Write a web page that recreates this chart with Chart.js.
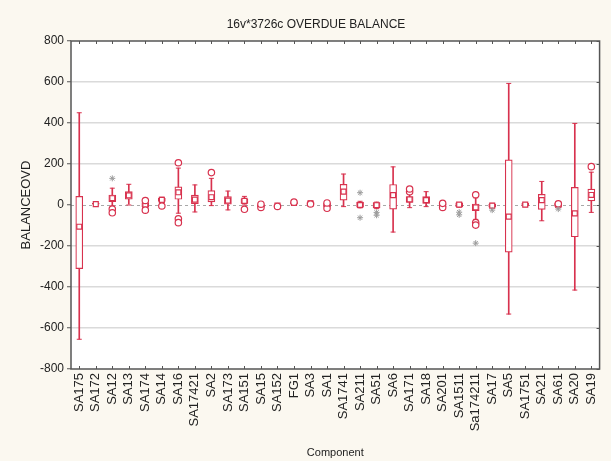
<!DOCTYPE html>
<html>
<head>
<meta charset="utf-8">
<title>OVERDUE BALANCE</title>
<script src="https://cdn.jsdelivr.net/npm/chart.js@4"></script>
<style>
  html, body { margin: 0; padding: 0; background: #fbf8f0; }
  canvas { display: block; }
</style>
</head>
<body>
<canvas id="chart" width="611" height="461"></canvas>
<script>
// Box-plot summaries of BALANCEOVD per component
const categories = ['SA175','SA172','SA12','SA13','SA174','SA14','SA16','SA17421','SA2','SA173',
  'SA151','SA15','SA152','FG1','SA3','SA1','SA1741','SA211','SA51','SA6',
  'SA171','SA18','SA201','SA1511','Sa174211','SA17','SA5','SA1751','SA21','SA61','SA20','SA19'];

const whiskerLow  = [-655, -3, -5,   0, -12, 10, -40, -34, -3, -24,   0, -14, -12,  2, -4, -18,  -8, -14, -18, -132, -13, -8, -10, -10, -70, -14, -532, -8, -77, -8, -415, -36];
const quartile1   = [-310,  0, 16,  28,  -8, 18,  28,   7, 15,   0,   8,  -9,  -8,  5,  0, -10,  24, -10, -14,  -20,  13,  8,  -8,  -8, -28, -10, -230, -5, -21, -5, -155,  20];
const medians     = [-106,  4, 33,  47,   0, 25,  62,  26, 38,  21,  20,  -4,  -3, 10,  8,  -2,  65,   0,  -1,   48,  27, 24,  -1,   2, -12,  -3,  -57,  2,  24,  2,  -41,  49];
const quartile3   = [  42,  8, 49,  65,  10, 32,  89,  48, 70,  41,  30,   2,   2, 16, 14,   8, 101,  14,  12,  100,  41, 41,   6,  10,   5,   5,  220,  8,  52,  8,   86,  78];
const whiskerHigh = [ 450, 10, 82, 101,  14, 38, 180,  98,130,  68,  42,   6,   5, 20, 18,  12, 151,  18,  14,  186,  55, 65,  10,  12,  35,   8,  593, 10, 115, 10,  398, 160];

// Outliers (circles) and extremes (stars)
const outliers = [[], [], [-20, -38], [], [-25, 22], [-5], [206, -67, -86], [], [158], [],
  [-21], [-12, 4], [-7], [14], [5], [-16, 10], [], [], [], [],
  [65, 78], [], [-12, 8], [], [50, -86, -98], [], [], [], [], [0, 6], [], [187]];
const extremes = [[], [], [130], [], [], [], [], [], [], [],
  [], [], [], [], [], [], [], [60, -62], [-36, -50], [],
  [], [], [], [-35, -48], [-186], [-25], [], [], [], [-20], [], []];

const yTicks = [-800, -600, -400, -200, 0, 200, 400, 600, 800];

const RED = '#d8324e';
const FONT = "'Liberation Sans', Arial, sans-serif";

const whiskerData = categories.map((c, i) => [whiskerLow[i], whiskerHigh[i]]);
const boxData = categories.map((c, i) => [quartile1[i], quartile3[i]]);
const capData = categories.flatMap((c, i) => [{ x: c, y: whiskerLow[i] }, { x: c, y: whiskerHigh[i] }]);
const medianData = categories.map((c, i) => ({ x: c, y: medians[i] }));
const outlierData = categories.flatMap((c, i) => outliers[i].map(v => ({ x: c, y: v })));
const extremeData = categories.flatMap((c, i) => extremes[i].map(v => ({ x: c, y: v })));

// Page background, white plot area, frame, dashed zero line and inward ticks
const framePlugin = {
  id: 'frame',
  beforeDraw(chart) {
    const { ctx, chartArea: a } = chart;
    ctx.save();
    ctx.fillStyle = '#fbf8f0';
    ctx.fillRect(0, 0, chart.width, chart.height);
    ctx.fillStyle = '#ffffff';
    ctx.fillRect(a.left, a.top, a.right - a.left, a.bottom - a.top);
    ctx.restore();
  },
  beforeDatasetsDraw(chart) {
    const { ctx, chartArea: a, scales: { x, y } } = chart;
    ctx.save();
    const y0 = Math.round(y.getPixelForValue(0)) + 0.5;
    ctx.strokeStyle = '#a8a8a8';
    ctx.lineWidth = 1;
    ctx.setLineDash([3, 3]);
    ctx.beginPath();
    ctx.moveTo(a.left, y0);
    ctx.lineTo(a.right, y0);
    ctx.stroke();
    ctx.setLineDash([]);

    ctx.strokeStyle = '#555555';
    ctx.lineWidth = 1.5;
    ctx.strokeRect(a.left, a.top, a.right - a.left, a.bottom - a.top);

    ctx.lineWidth = 1;
    ctx.beginPath();
    x.ticks.forEach((t, i) => {
      const px = Math.round(x.getPixelForTick(i)) + 0.5;
      ctx.moveTo(px, a.top); ctx.lineTo(px, a.top + 3);
      ctx.moveTo(px, a.bottom); ctx.lineTo(px, a.bottom - 3);
    });
    y.ticks.forEach((t, i) => {
      const py = Math.round(y.getPixelForTick(i)) + 0.5;
      ctx.moveTo(a.right, py); ctx.lineTo(a.right - 3, py);
    });
    ctx.stroke();
    ctx.restore();
  }
};

new Chart(document.getElementById('chart'), {
  type: 'bar',
  data: {
    labels: categories,
    datasets: [
      {
        label: 'Non-outlier range',
        data: whiskerData,
        backgroundColor: RED,
        borderWidth: 0,
        barThickness: 1,
        grouped: false,
        order: 6
      },
      {
        label: '25%-75%',
        data: boxData,
        backgroundColor: '#ffffff',
        borderColor: RED,
        borderWidth: 1.2,
        borderSkipped: false,
        barThickness: 7,
        grouped: false,
        order: 5
      },
      {
        type: 'line',
        label: 'Caps',
        data: capData,
        showLine: false,
        pointStyle: 'line',
        pointRadius: 2.5,
        pointHoverRadius: 2.5,
        borderColor: RED,
        pointBorderWidth: 1,
        order: 4
      },
      {
        type: 'line',
        label: 'Median',
        data: medianData,
        showLine: false,
        pointStyle: 'rect',
        pointRadius: 3.5,
        pointHoverRadius: 3.5,
        pointBackgroundColor: '#ffffff',
        pointBorderColor: RED,
        pointBorderWidth: 1.2,
        order: 3
      },
      {
        type: 'line',
        label: 'Outliers',
        data: outlierData,
        showLine: false,
        pointStyle: 'circle',
        pointRadius: 3.2,
        pointHoverRadius: 3.2,
        pointBackgroundColor: '#ffffff',
        pointBorderColor: RED,
        pointBorderWidth: 1.2,
        order: 2
      },
      {
        type: 'line',
        label: 'Extremes',
        data: extremeData,
        showLine: false,
        pointStyle: 'star',
        pointRadius: 3,
        pointHoverRadius: 3,
        pointBorderColor: '#9c9c9c',
        pointBorderWidth: 1,
        order: 1
      }
    ]
  },
  options: {
    responsive: false,
    animation: false,
    devicePixelRatio: 1,
    layout: { padding: { left: 26, right: 5, top: 0, bottom: 0 } },
    plugins: {
      legend: { display: false },
      tooltip: { enabled: false },
      title: {
        display: true,
        text: '16v*3726c OVERDUE BALANCE',
        color: '#222222',
        font: { family: FONT, size: 12, weight: 'normal' },
        padding: { top: 17, bottom: 9.6 }
      }
    },
    scales: {
      x: {
        type: 'category',
        offset: true,
        grid: { display: false, drawTicks: false },
        border: { display: false },
        ticks: {
          autoSkip: false,
          minRotation: 90,
          maxRotation: 90,
          padding: 4,
          color: '#222222',
          font: { family: FONT, size: 13 }
        },
        title: {
          display: true,
          text: 'Component',
          color: '#222222',
          font: { family: FONT, size: 11 },
          padding: { top: 0, bottom: 1 }
        },
        afterFit(scale) { scale.height = 92; }
      },
      y: {
        min: -800,
        max: 800,
        afterBuildTicks(scale) { scale.ticks = yTicks.map(v => ({ value: v })); },
        grid: {
          color: ctx => (ctx.tick && (ctx.tick.value === 0 || Math.abs(ctx.tick.value) === 800)) ? 'rgba(0,0,0,0)' : '#dadada',
          lineWidth: 1.5,
          drawTicks: true,
          tickLength: 4,
          tickColor: '#555555',
          tickWidth: 1
        },
        border: { display: false },
        ticks: {
          padding: 3,
          color: '#222222',
          font: { family: FONT, size: 12 }
        },
        title: {
          display: true,
          text: 'BALANCEOVD',
          color: '#222222',
          font: { family: FONT, size: 13 },
          padding: { top: -7, bottom: 0 }
        },
        afterFit(scale) { scale.width = 45; }
      }
    }
  },
  plugins: [framePlugin]
});
</script>
</body>
</html>
